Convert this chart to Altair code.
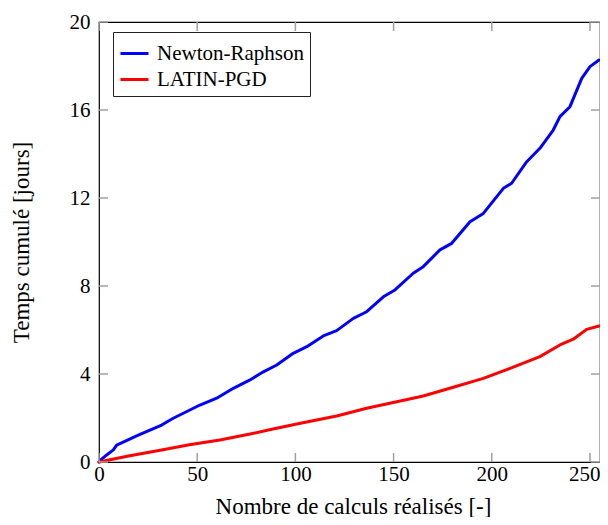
import altair as alt
import pandas as pd

# ---- data ----
series = ["Newton-Raphson", "LATIN-PGD"]
colors = ["#0000ff", "#ff0000"]

nr_x = [0, 0.5, 3.9, 7.3, 9.0, 20.0, 31.9, 37.8, 51.4, 59.9, 68.4, 76.9, 83.7, 90.5,
        98.9, 105.8, 114.2, 121.0, 129.5, 136.3, 144.8, 150.7, 160.0, 165.1, 173.6,
        179.6, 188.9, 195.7, 205.9, 210.1, 217.8, 224.5, 231.3, 234.7, 239.8, 245.8,
        250.0, 254.6]
nr_t = [0, 0.06, 0.32, 0.55, 0.77, 1.22, 1.68, 1.99, 2.59, 2.90, 3.35, 3.73, 4.10, 4.41,
        4.94, 5.24, 5.73, 5.97, 6.53, 6.83, 7.51, 7.82, 8.58, 8.88, 9.64,
        9.94, 10.92, 11.30, 12.44, 12.67, 13.65, 14.26, 15.09, 15.70, 16.15, 17.44,
        17.97, 18.27]

lp_x = [0, 15.0, 31.9, 46.0, 61.6, 76.9, 88.0, 100.7, 121.0, 136.3, 151.6, 165.1, 180.4,
        195.7, 209.3, 224.5, 234.7, 241.5, 248.3, 254.6]
lp_t = [0, 0.27, 0.545, 0.78, 1.0, 1.27, 1.49, 1.73, 2.09, 2.44, 2.74, 3.0, 3.40,
        3.80, 4.26, 4.79, 5.32, 5.58, 6.03, 6.18]

x_ticks = [0, 50, 100, 150, 200, 250]
y_ticks = [0, 4, 8, 12, 16, 20]
x_title = "Nombre de calculs réalisés [-]"
y_title = "Temps cumulé [jours]"

# ---- build table ----
rows = []
for s, xs, ts in [(series[0], nr_x, nr_t), (series[1], lp_x, lp_t)]:
    for v, t in zip(xs, ts):
        rows.append({"serie": s, "v": v, "t": t})
df = pd.DataFrame(rows)

W, H = 501, 440
FONT = "Liberation Serif"
TICK_LEN = 9
last_tick = x_ticks[-1]

x_scale = alt.Scale(domain=[0, 255.1], nice=False, zero=False)
y_scale = alt.Scale(domain=[0, 20], nice=False)

x_axis = alt.Axis(values=x_ticks, title=x_title, grid=False, ticks=False, tickSize=0,
                  domain=False, labelFont=FONT, labelFontSize=21, labelColor="black",
                  labelFlush=False, labelPadding=1,
                  labelAlign={"condition": {"test": f"datum.value == {last_tick}",
                                            "value": "right"}, "value": "center"},
                  labelOffset={"condition": {"test": f"datum.value == {last_tick}",
                                             "value": 10}, "value": 0},
                  titleFont=FONT, titleFontSize=23,
                  titleFontWeight="normal", titleColor="black",
                  titleX=(607 - 99) / 2, titleY=51, titleAlign="center",
                  titleBaseline="alphabetic")
y_axis = alt.Axis(values=y_ticks, title=y_title, grid=False, ticks=False, tickSize=0,
                  domain=False, labelFont=FONT, labelFontSize=21, labelColor="black",
                  labelFlush=False, labelPadding=9, titleFont=FONT, titleFontSize=23,
                  titleFontWeight="normal", titleColor="black",
                  titleX=-71, titleY=H / 2, titleAngle=-90, titleAlign="center",
                  titleBaseline="alphabetic")

lines = alt.Chart(df).mark_line(strokeWidth=3, strokeJoin="round", strokeCap="round").encode(
    x=alt.X("v:Q", scale=x_scale, axis=x_axis),
    y=alt.Y("t:Q", scale=y_scale, axis=y_axis),
    color=alt.Color("serie:N", scale=alt.Scale(domain=series, range=colors),
                    legend=alt.Legend(title=None, orient="none", legendX=14, legendY=10,
                                      fillColor="white", strokeColor="#222222",
                                      padding=6, rowPadding=-2, symbolType="stroke",
                                      symbolSize=784, symbolStrokeWidth=3,
                                      labelFont=FONT, labelFontSize=21, labelColor="black",
                                      labelOffset=7, labelLimit=300)),
)

xt_df = pd.DataFrame({"v": x_ticks})
yt_df = pd.DataFrame({"t": y_ticks})
tick_style = dict(color="#a0a0a0", strokeWidth=1.5)

x_bottom = alt.Chart(xt_df).mark_rule(**tick_style).encode(
    x=alt.X("v:Q", scale=x_scale, axis=x_axis), y=alt.value(H), y2=alt.value(H - TICK_LEN))
x_top = alt.Chart(xt_df).mark_rule(**tick_style).encode(
    x=alt.X("v:Q", scale=x_scale, axis=x_axis), y=alt.value(0), y2=alt.value(TICK_LEN))
y_left = alt.Chart(yt_df).mark_rule(**tick_style).encode(
    y=alt.Y("t:Q", scale=y_scale, axis=y_axis), x=alt.value(0), x2=alt.value(TICK_LEN))
y_right = alt.Chart(yt_df).mark_rule(**tick_style).encode(
    y=alt.Y("t:Q", scale=y_scale, axis=y_axis), x=alt.value(W - TICK_LEN), x2=alt.value(W))

chart = alt.layer(lines, x_bottom, x_top, y_left, y_right).properties(
    width=W, height=H,
    padding={"left": 91, "top": 14, "right": 0, "bottom": 55},
    autosize=alt.AutoSizeParams(type="none"),
    background="white",
).configure_view(stroke="black", strokeWidth=1.2)

chart.save("out.html", embed_options={"renderer": "svg", "actions": False})
